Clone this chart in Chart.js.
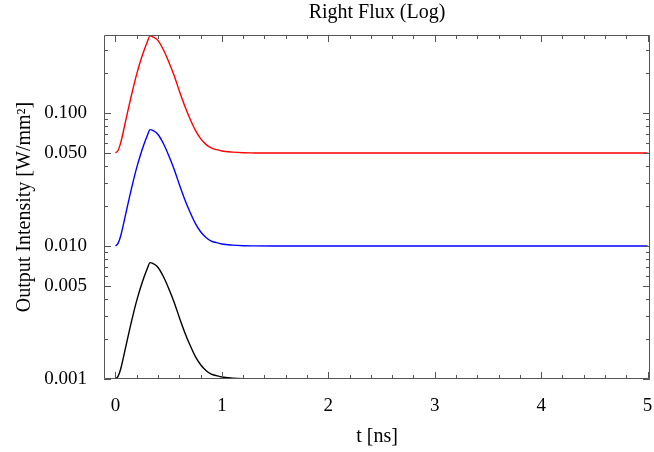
<!DOCTYPE html>
<html>
<head>
<meta charset="utf-8">
<script src="https://cdn.jsdelivr.net/npm/chart.js@4/dist/chart.umd.min.js"></script>
<style>
  html, body { margin: 0; padding: 0; background: #fff; }
  #wrap { width: 654px; height: 452px; }
</style>
</head>
<body>
<div id="wrap"><canvas id="myChart" width="654" height="452"></canvas></div>
<script>
// time samples (ns)
const tValues = [0, 0.025, 0.05, 0.1, 0.15, 0.2, 0.25, 0.3, 0.325, 0.35, 0.4, 0.45, 0.5, 0.55, 0.6, 0.65, 0.7, 0.75, 0.8, 0.85, 0.9, 0.95, 1.0, 1.1, 1.2, 1.3, 1.5, 2, 3, 4, 5];

// right flux, W/mm^2
const redFlux   = [0.05, 0.0525, 0.0602, 0.0906, 0.136, 0.197, 0.268, 0.345, 0.380, 0.374, 0.350, 0.299, 0.243, 0.192, 0.1465, 0.1135, 0.0906, 0.0744, 0.0642, 0.0581, 0.0546, 0.053, 0.0518, 0.0508, 0.05025, 0.0501, 0.05, 0.05, 0.05, 0.05, 0.05];
const blueFlux  = [0.01, 0.0105, 0.012, 0.018, 0.027, 0.039, 0.053, 0.068, 0.075, 0.074, 0.069, 0.059, 0.048, 0.038, 0.029, 0.0225, 0.018, 0.0148, 0.0128, 0.0116, 0.0109, 0.0106, 0.01035, 0.01015, 0.01005, 0.01002, 0.01, 0.01, 0.01, 0.01, 0.01];
const blackFlux = [0.001, 0.00105, 0.0012, 0.0018, 0.0027, 0.0039, 0.0053, 0.0068, 0.0075, 0.0074, 0.0069, 0.0059, 0.0048, 0.0038, 0.0029, 0.00225, 0.0018, 0.00148, 0.00128, 0.00116, 0.00109, 0.00106, 0.001035, 0.001015, 0.001005, 0.001002, 0.001, 0.001, 0.001, 0.001, 0.001];

// ticks
const xMajor = [0, 1, 2, 3, 4, 5];
const xMinor = [0.2, 0.4, 0.6, 0.8, 1.2, 1.4, 1.6, 1.8, 2.2, 2.4, 2.6, 2.8, 3.2, 3.4, 3.6, 3.8, 4.2, 4.4, 4.6, 4.8];
const yMajor = [0.001, 0.005, 0.01, 0.05, 0.1];
const yMinor = [0.002, 0.003, 0.004, 0.006, 0.007, 0.008, 0.009, 0.02, 0.03, 0.04, 0.06, 0.07, 0.08, 0.09, 0.2, 0.3];

const serif = 'Liberation Serif';
const frameColor = '#555';

const toPoints = arr => arr.map((v, i) => ({x: tValues[i], y: v}));

function series(label, arr, color) {
  return {
    label: label,
    data: toPoints(arr),
    borderColor: color,
    backgroundColor: color,
    borderWidth: 1.4,
    pointRadius: 0,
    fill: false,
    cubicInterpolationMode: 'monotone'
  };
}

// frame with inward ticks on all four sides
const framePlugin = {
  id: 'frame',
  afterDraw(chart) {
    const {ctx, chartArea: a, scales} = chart;
    const xs = scales.x, ys = scales.y;
    ctx.save();
    ctx.strokeStyle = frameColor;
    ctx.lineWidth = 1;
    ctx.beginPath();
    ctx.rect(a.left + 0.5, a.top + 0.5, a.right - a.left - 1, a.bottom - a.top - 1);
    ctx.stroke();
    ctx.beginPath();
    const xt = (v, len) => {
      const px = Math.round(xs.getPixelForValue(v)) + 0.5;
      ctx.moveTo(px, a.bottom); ctx.lineTo(px, a.bottom - len);
      ctx.moveTo(px, a.top); ctx.lineTo(px, a.top + len);
    };
    const yt = (v, len) => {
      const py = Math.round(ys.getPixelForValue(v)) + 0.5;
      ctx.moveTo(a.left, py); ctx.lineTo(a.left + len, py);
      ctx.moveTo(a.right, py); ctx.lineTo(a.right - len, py);
    };
    xMajor.forEach(v => xt(v, 7));
    xMinor.forEach(v => xt(v, 4));
    yMajor.forEach(v => yt(v, 7));
    yMinor.forEach(v => yt(v, 4));
    ctx.stroke();
    ctx.restore();
  }
};

const ctx = document.getElementById('myChart');
const myChart = new Chart(ctx, {
  type: 'line',
  data: {
    datasets: [
      series('red', redFlux, 'rgb(255,0,0)'),
      series('blue', blueFlux, 'rgb(0,0,255)'),
      series('black', blackFlux, 'rgb(0,0,0)')
    ]
  },
  options: {
    responsive: false,
    animation: false,
    events: [],
    layout: { padding: { left: 0, right: 4, top: 0, bottom: 0 } },
    plugins: {
      legend: { display: false },
      tooltip: { enabled: false },
      title: {
        display: true,
        fullSize: false,
        text: 'Right Flux (Log)',
        color: '#000',
        font: { family: serif, size: 20, weight: 'normal' },
        padding: { top: 1, bottom: 10 }
      }
    },
    scales: {
      x: {
        type: 'linear',
        min: -0.108,
        max: 5.023,
        grid: { display: false },
        border: { display: false },
        afterBuildTicks: s => { s.ticks = xMajor.map(v => ({value: v})); },
        afterFit: s => { s.height = 73; s.paddingRight = 0; s.paddingLeft = 0; },
        ticks: {
          color: '#000',
          padding: 8,
          maxRotation: 0,
          font: { family: serif, size: 19 },
          callback: v => String(v)
        },
        title: {
          display: true,
          text: 't [ns]',
          color: '#000',
          font: { family: serif, size: 20 },
          padding: { top: 0, bottom: 3 }
        }
      },
      y: {
        type: 'logarithmic',
        min: 0.001,
        max: 0.386,
        grid: { display: false },
        border: { display: false },
        afterBuildTicks: s => { s.ticks = yMajor.map(v => ({value: v})); },
        afterFit: s => { s.width = 104; s.paddingTop = 0; s.paddingBottom = 0; },
        ticks: {
          color: '#000',
          padding: 9,
          font: { family: serif, size: 19 },
          callback: v => Number(v).toFixed(3)
        },
        title: {
          display: true,
          text: 'Output Intensity [W/mm²]',
          color: '#000',
          font: { family: serif, size: 20 },
          padding: { top: 13, bottom: 0 }
        }
      }
    }
  },
  plugins: [framePlugin]
});
</script>
</body>
</html>
